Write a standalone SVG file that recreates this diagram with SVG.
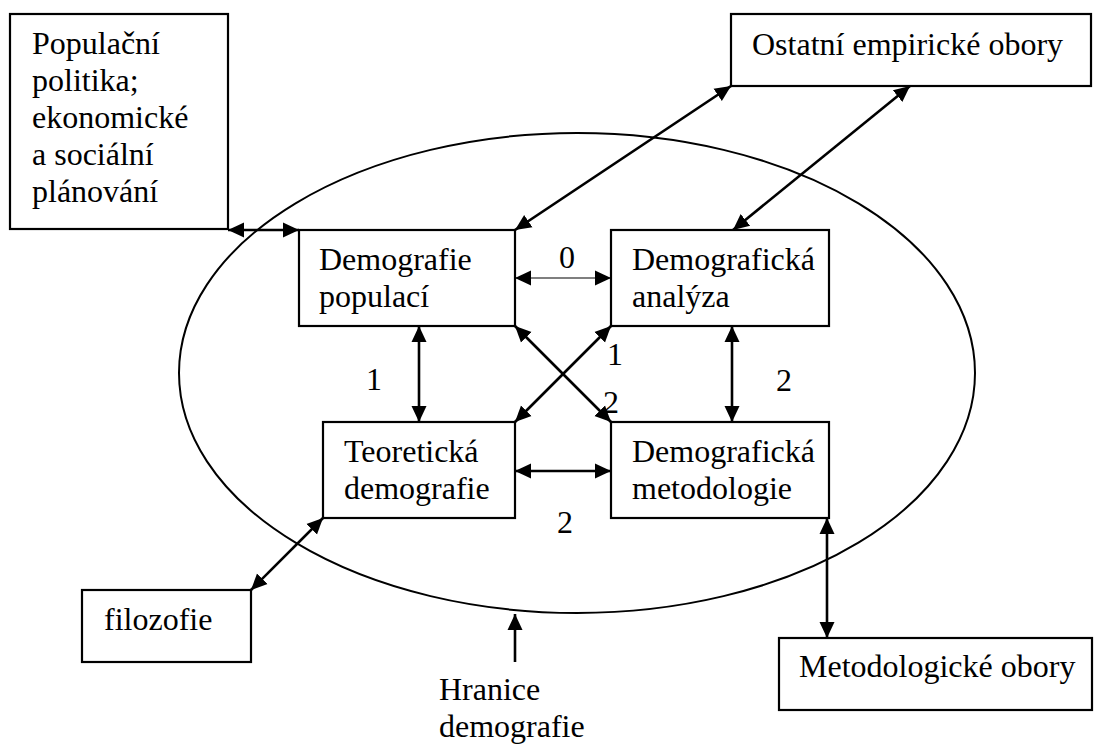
<svg xmlns="http://www.w3.org/2000/svg" width="1104" height="744" viewBox="0 0 1104 744">
<style>
.box{fill:#fff;stroke:#000;stroke-width:2.2}
.t{font-family:"Liberation Serif","Times New Roman",serif;font-size:32px;fill:#000}
.c{stroke:#000;stroke-width:2.6;fill:none;marker-start:url(#ah);marker-end:url(#ah)}
.thin{stroke:#000;stroke-width:1.2;fill:none;marker-start:url(#ah);marker-end:url(#ah)}
</style>
<defs>
<marker id="ah" markerUnits="userSpaceOnUse" markerWidth="17" markerHeight="17" refX="16" refY="7.5" orient="auto-start-reverse" viewBox="0 0 17 15">
<path d="M0,0 L16,7.5 L0,15 z" fill="#000"/>
</marker>
<marker id="ah1" markerUnits="userSpaceOnUse" markerWidth="17" markerHeight="17" refX="16" refY="7.5" orient="auto" viewBox="0 0 17 15">
<path d="M0,0 L16,7.5 L0,15 z" fill="#000"/>
</marker>
</defs>
<rect width="1104" height="744" fill="#fff"/>
<g id="boundary">
<ellipse cx="577" cy="373" rx="398" ry="240" fill="none" stroke="#000" stroke-width="2"/>
</g>
<g id="n-populacni-politika">
<rect class="box" x="10" y="14" width="218" height="215"/>
<text class="t" x="32" y="54">Populační</text>
<text class="t" x="32" y="91">politika;</text>
<text class="t" x="32" y="128">ekonomické</text>
<text class="t" x="32" y="165">a sociální</text>
<text class="t" x="32" y="202">plánování</text>
</g>
<g id="n-ostatni">
<rect class="box" x="731" y="14" width="360" height="72"/>
<text class="t" x="752" y="55">Ostatní empirické obory</text>
</g>
<g id="n-demografie-populaci">
<rect class="box" x="299" y="230" width="216" height="96"/>
<text class="t" x="319" y="270">Demografie</text>
<text class="t" x="319" y="307">populací</text>
</g>
<g id="n-demograficka-analyza">
<rect class="box" x="611" y="230" width="218" height="96"/>
<text class="t" x="632" y="270">Demografická</text>
<text class="t" x="632" y="307">analýza</text>
</g>
<g id="n-teoreticka">
<rect class="box" x="323" y="422" width="192" height="96"/>
<text class="t" x="344" y="462">Teoretická</text>
<text class="t" x="344" y="499">demografie</text>
</g>
<g id="n-metodologie">
<rect class="box" x="611" y="422" width="218" height="96"/>
<text class="t" x="632" y="462">Demografická</text>
<text class="t" x="632" y="499">metodologie</text>
</g>
<g id="n-filozofie">
<rect class="box" x="82" y="590" width="169" height="72"/>
<text class="t" x="104" y="630">filozofie</text>
</g>
<g id="n-metodologicke-obory">
<rect class="box" x="779" y="638" width="313" height="72"/>
<text class="t" x="799" y="677">Metodologické obory</text>
</g>
<g id="n-hranice">
<text class="t" x="439" y="700">Hranice</text>
<text class="t" x="439" y="737">demografie</text>
</g>
<g id="connectors">
<line class="c" x1="228" y1="230" x2="299" y2="230"/>
<line class="c" x1="731" y1="86" x2="515" y2="230"/>
<line class="c" x1="910" y1="86" x2="733" y2="230"/>
<line class="thin" x1="515" y1="278" x2="611" y2="278"/>
<line class="c" x1="419" y1="326" x2="419" y2="422"/>
<line class="c" x1="515" y1="326" x2="611" y2="422"/>
<line class="c" x1="611" y1="326" x2="515" y2="422"/>
<line class="c" x1="732" y1="326" x2="732" y2="422"/>
<line class="c" x1="515" y1="471" x2="611" y2="471"/>
<line class="c" x1="251" y1="590" x2="323" y2="518"/>
<line class="c" x1="827" y1="518" x2="827" y2="638"/>
<line x1="515" y1="662" x2="515" y2="614" stroke="#000" stroke-width="2.6" marker-end="url(#ah1)"/>
<text class="t" x="567" y="268" text-anchor="middle">0</text>
<text class="t" x="374" y="390" text-anchor="middle">1</text>
<text class="t" x="607" y="365">1</text>
<text class="t" x="603" y="413">2</text>
<text class="t" x="776" y="391">2</text>
<text class="t" x="565" y="533" text-anchor="middle">2</text>
</g>
</svg>
